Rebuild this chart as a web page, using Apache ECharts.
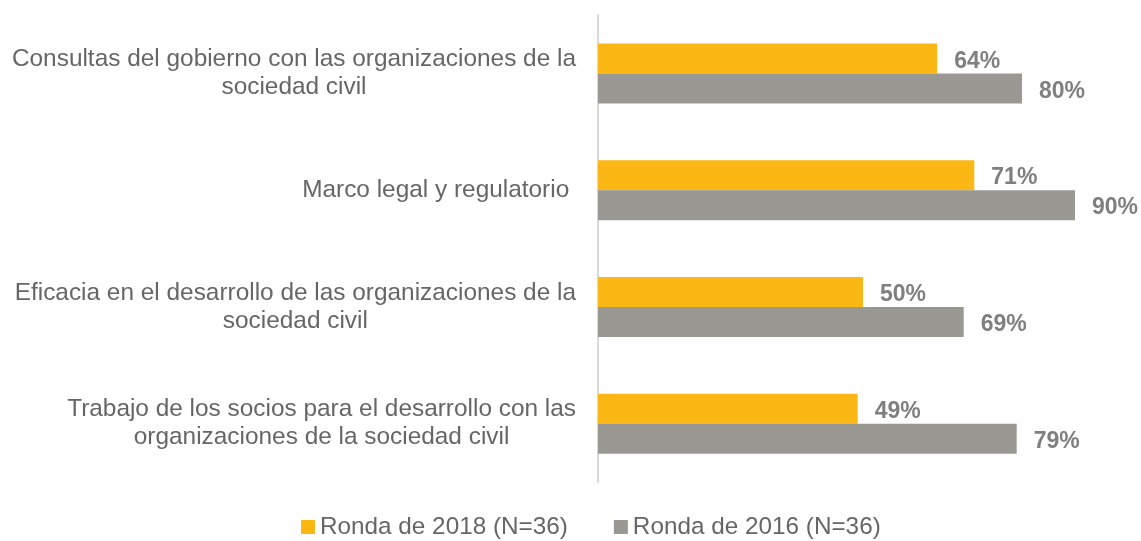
<!DOCTYPE html>
<html>
<head>
<meta charset="utf-8">
<script src="https://cdn.jsdelivr.net/npm/echarts@6/dist/echarts.min.js"></script>
<style>
  html, body { margin: 0; padding: 0; background: #fff; }
  #chart { width: 1141px; height: 541px; }
</style>
</head>
<body>
<div id="chart"></div>
<script>
var categories = [
  'Consultas del gobierno con las organizaciones de la\nsociedad civil',
  'Marco legal y regulatorio ',
  'Eficacia en el desarrollo de las organizaciones de la\nsociedad civil',
  'Trabajo de los socios para el desarrollo con las\norganizaciones de la sociedad civil'
]
var round2018 = [64, 71, 50, 49]
var round2016 = [80, 90, 69, 79]
var seriesNames = ['Ronda de 2018 (N=36)', 'Ronda de 2016 (N=36)']
var colors = ['#FBB714', '#9A9893']

var chart = echarts.init(document.getElementById('chart'))

function barSeries (name, data, color) {
  return {
    name: name,
    type: 'bar',
    data: data,
    barWidth: 30,
    barGap: '0%',
    itemStyle: { color: color },
    label: {
      show: true,
      position: 'right',
      distance: 17,
      offset: [0, 3],
      formatter: '{c}%',
      fontFamily: 'Liberation Sans, Arial',
      fontWeight: 'bold',
      fontSize: 23,
      color: '#7F7F7F'
    },
    animation: false
  }
}

chart.setOption({
  textStyle: { fontFamily: 'Liberation Sans, Arial' },
  grid: { left: 598, right: 13, top: 15, bottom: 59, containLabel: false },
  legend: {
    data: seriesNames,
    left: 301,
    top: 515,
    padding: 0,
    itemWidth: 14,
    itemHeight: 14,
    itemGap: 46,
    icon: 'rect',
    textStyle: { fontSize: 24.3, color: '#666666' }
  },
  xAxis: {
    type: 'value',
    min: 0,
    max: 100,
    show: false
  },
  yAxis: {
    type: 'category',
    inverse: true,
    data: categories,
    axisTick: { show: false },
    axisLine: { show: true, lineStyle: { color: '#D9D9D9', width: 2 } },
    axisLabel: {
      margin: 22,
      formatter: function (v) {
        return v.split('\n').map(function (l) { return '{c|' + l + '}' }).join('\n')
      },
      rich: {
        c: { align: 'center', fontSize: 24.4, lineHeight: 28, color: '#666666', fontFamily: 'Liberation Sans, Arial' }
      }
    }
  },
  series: [
    barSeries(seriesNames[0], round2018, colors[0]),
    barSeries(seriesNames[1], round2016, colors[1])
  ]
})
</script>
</body>
</html>
